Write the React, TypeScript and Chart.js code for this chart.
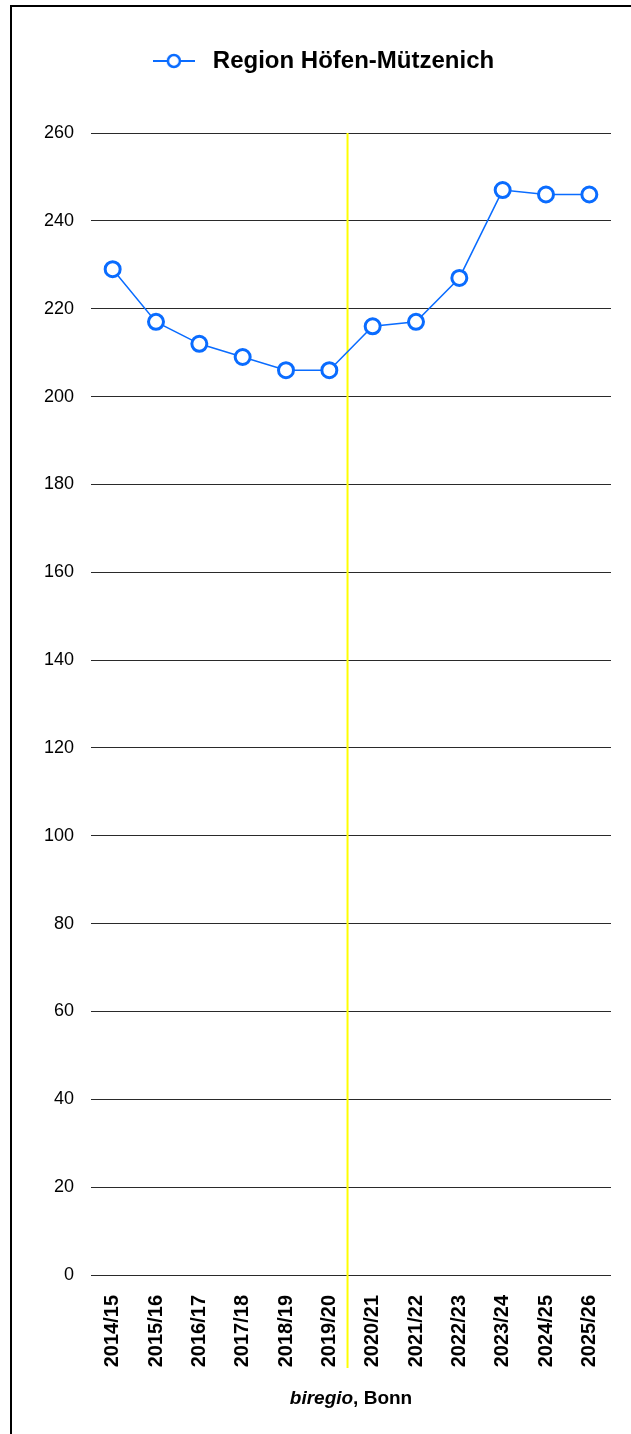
import { useEffect, useRef } from 'react';
import { Chart, registerables } from 'chart.js';

Chart.register(...registerables);

// ---- data ----
const categories = [
  '2014/15', '2015/16', '2016/17', '2017/18', '2018/19', '2019/20',
  '2020/21', '2021/22', '2022/23', '2023/24', '2024/25', '2025/26',
];
const values = [229, 217, 212, 209, 206, 206, 216, 217, 227, 247, 246, 246];
const seriesLabel = 'Region Höfen-Mützenich';
const yMin = 0;
const yMax = 260;
const yStep = 20;
// divider between the observed and the forecast years (category index)
const dividerIndex = 5.42;
const footerItalic = 'biregio';
const footerRest = ', Bonn';

const BLUE = '#0a6cff';
const FONT = "'Liberation Sans', Arial, Helvetica, sans-serif";

export default function App() {
  const ref = useRef<HTMLCanvasElement>(null);

  useEffect(() => {
    const canvas = ref.current;
    if (!canvas) return;

    // legend marker: line with open circle
    const marker = document.createElement('canvas');
    marker.width = 42;
    marker.height = 18;
    const m = marker.getContext('2d')!;
    m.strokeStyle = BLUE;
    m.lineWidth = 2;
    m.beginPath();
    m.moveTo(0, 9);
    m.lineTo(42, 9);
    m.stroke();
    m.beginPath();
    m.arc(21, 9, 6, 0, Math.PI * 2);
    m.fillStyle = '#fff';
    m.fill();
    m.lineWidth = 2.5;
    m.stroke();

    const framePlugin = {
      id: 'frame',
      beforeDraw(chart: any) {
        const ctx = chart.ctx;
        ctx.save();
        ctx.fillStyle = '#fff';
        ctx.fillRect(0, 0, chart.width, chart.height);
        ctx.fillStyle = '#000';
        ctx.fillRect(10, 5, 2, chart.height - 5);
        ctx.fillRect(10, 5, chart.width - 10, 2);
        ctx.restore();
      },
    };

    const dividerPlugin = {
      id: 'divider',
      beforeDatasetsDraw(chart: any) {
        const x = chart.scales.x.getPixelForValue(dividerIndex);
        const ctx = chart.ctx;
        ctx.save();
        ctx.strokeStyle = '#ffff00';
        ctx.lineWidth = 2;
        ctx.beginPath();
        ctx.moveTo(x, chart.chartArea.top);
        ctx.lineTo(x, chart.scales.x.bottom);
        ctx.stroke();
        ctx.restore();
      },
    };

    const footerPlugin = {
      id: 'footer',
      afterDraw(chart: any) {
        const ctx = chart.ctx;
        const cx = (chart.chartArea.left + chart.chartArea.right) / 2;
        const y = 1404;
        ctx.save();
        ctx.fillStyle = '#000';
        ctx.textBaseline = 'alphabetic';
        ctx.textAlign = 'left';
        ctx.font = `italic bold 19px ${FONT}`;
        const w1 = ctx.measureText(footerItalic).width;
        ctx.font = `bold 19px ${FONT}`;
        const w2 = ctx.measureText(footerRest).width;
        const x0 = cx - (w1 + w2) / 2;
        ctx.font = `italic bold 19px ${FONT}`;
        ctx.fillText(footerItalic, x0, y);
        ctx.font = `bold 19px ${FONT}`;
        ctx.fillText(footerRest, x0 + w1, y);
        ctx.restore();
      },
    };

    const chart = new Chart(canvas, {
      type: 'line',
      data: {
        labels: categories,
        datasets: [
          {
            label: seriesLabel,
            data: values,
            borderColor: BLUE,
            backgroundColor: '#ffffff',
            borderWidth: 1.5,
            pointRadius: 7.5,
            pointBorderWidth: 3,
            pointBackgroundColor: '#ffffff',
            pointBorderColor: BLUE,
            tension: 0,
          },
        ],
      },
      options: {
        responsive: false,
        animation: false,
        layout: { padding: { top: 7, left: 30, right: 20, bottom: 66 } },
        plugins: {
          tooltip: { enabled: false },
          legend: {
            display: true,
            position: 'top',
            align: 'center',
            labels: {
              usePointStyle: true,
              pointStyle: marker as any,
              pointStyleWidth: 54,
              padding: 42,
              color: '#000',
              font: { family: FONT, size: 24, weight: 'bold' },
            },
          },
          title: {
            display: true,
            text: ' ',
            weight: 500,
            position: 'top',
            font: { size: 10, lineHeight: 1.2 },
            padding: { top: 0, bottom: 38 },
          } as any,
        },
        scales: {
          x: {
            type: 'category',
            offset: true,
            grid: { display: false, drawTicks: false },
            border: { display: false },
            ticks: {
              autoSkip: false,
              minRotation: 90,
              maxRotation: 90,
              padding: 20,
              color: '#000',
              font: { family: FONT, size: 20, weight: 'bold' },
            },
            afterFit(scale: any) {
              scale.height = 93;
              scale.paddingLeft = 0;
              scale.paddingRight = 0;
            },
          },
          y: {
            min: yMin,
            max: yMax,
            grid: { color: '#2a2a2a', lineWidth: 1, drawTicks: false },
            border: { display: false },
            ticks: {
              stepSize: yStep,
              padding: 17,
              color: '#000',
              font: { family: FONT, size: 18 },
            },
            afterFit(scale: any) {
              scale.width = 61;
            },
          },
        },
      },
      plugins: [framePlugin, dividerPlugin, footerPlugin],
    });

    return () => chart.destroy();
  }, []);

  return (
    <canvas
      ref={ref}
      width={631}
      height={1434}
      style={{ position: 'absolute', left: 0, top: 0, display: 'block' }}
    />
  );
}
